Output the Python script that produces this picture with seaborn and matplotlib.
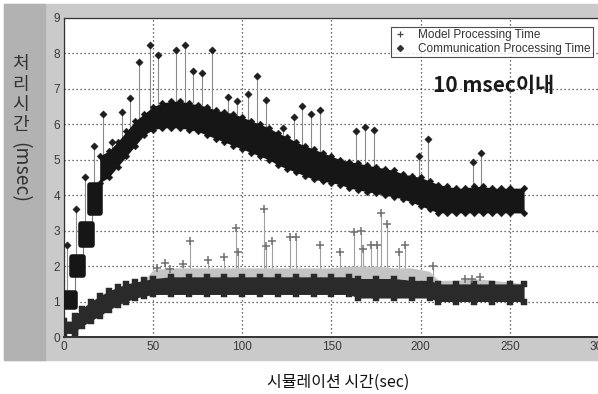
import numpy as np
import pandas as pd
import matplotlib
matplotlib.use("Agg")
import matplotlib.pyplot as plt
import seaborn as sns
from matplotlib.patches import Rectangle
from matplotlib.lines import Line2D

# ---------------- data ----------------
# Communication processing time: early step clusters (msec)
comm_step_x0 = [0, 4.5, 9.5, 14.5]
comm_step_x1 = [6, 10.5, 15.5, 20]
comm_step_lo = [0.85, 1.75, 2.6, 3.5]
comm_step_hi = [1.25, 2.25, 3.2, 4.3]

# Communication processing time: main band envelope (msec)
comm_x = [20, 25, 30, 35, 40, 45, 50, 55, 60, 65, 70, 75,
          80, 85, 90, 95, 100, 105, 110, 115, 120, 125, 130, 135, 140, 145, 150, 155,
          160, 165, 170, 175, 180, 185, 190, 195, 200, 205, 210, 215, 220, 225, 230,
          235, 240, 245, 250, 258]
comm_lo = [4.35, 4.5, 4.8, 5.1, 5.4, 5.7,
           5.85, 5.9, 5.9, 5.9, 5.85, 5.8, 5.7, 5.6, 5.5, 5.4, 5.3, 5.2, 5.1, 5.0, 4.85,
           4.75, 4.65, 4.55, 4.45, 4.4, 4.35, 4.3, 4.2, 4.15, 4.1, 4.05, 4.0, 3.95, 3.9,
           3.8, 3.7, 3.6, 3.5, 3.5, 3.5, 3.5, 3.5, 3.5, 3.5, 3.5, 3.5, 3.5]
comm_hi = [5.1, 5.25, 5.5, 5.8, 6.1, 6.3,
           6.5, 6.6, 6.65, 6.65, 6.6, 6.55, 6.5, 6.4, 6.35, 6.3, 6.2, 6.1, 6.0, 5.9, 5.75,
           5.65, 5.5, 5.4, 5.3, 5.2, 5.1, 5.0, 4.95, 4.9, 4.85, 4.8, 4.75, 4.7, 4.6, 4.55,
           4.5, 4.4, 4.3, 4.25, 4.2, 4.2, 4.25, 4.25, 4.2, 4.2, 4.2, 4.2]
comm_spike_x = [1.7, 6.7, 12, 17, 22, 27, 32.5, 37, 42, 48, 52.5, 63, 68, 72.5, 77.5, 83,
                92, 97, 103, 108, 113, 123, 128.7, 133.5, 138.6, 143.3, 164, 169, 173.7,
                199, 204, 229.6, 234]
comm_spike_base = [1.2, 2.2, 3.1, 4.2, 5.0, 5.2, 5.5, 5.8, 6.0, 6.3, 6.5, 6.6, 6.6,
                   6.6, 6.5, 6.4, 6.3, 6.2, 6.1, 6.0, 5.9, 5.7, 5.5, 5.4, 5.3, 5.2,
                   4.9, 4.9, 4.8, 4.5, 4.4, 4.2, 4.2]
comm_spike_y = [2.6, 3.6, 4.5, 5.4, 6.3, 5.5, 6.35, 6.75, 7.75, 8.25, 7.95, 8.1, 8.25,
                7.5, 7.45, 8.1, 6.77, 6.65, 6.85, 7.35, 6.7, 5.9, 6.2, 6.52, 6.3, 6.4,
                5.82, 5.93, 5.83, 5.1, 5.6, 4.93, 5.2]

# Model processing time: band envelope (msec)
model_x = [0, 6, 6, 10, 15, 20, 25, 30, 35, 40, 45, 50, 60, 70, 80, 90, 100, 110, 120,
           130, 140, 150, 160, 165, 175, 185, 195, 205, 210, 220, 230, 240, 250, 258]
model_lo = [0.1, 0.1, 0.15, 0.3, 0.45, 0.6, 0.75, 0.9, 1.0, 1.1, 1.15, 1.2, 1.2, 1.2,
            1.2, 1.2, 1.2, 1.2, 1.2, 1.2, 1.2, 1.2, 1.2, 1.1, 1.1, 1.1, 1.1, 1.1, 1.0,
            1.0, 1.0, 1.0, 1.0, 1.0]
model_hi = [0.45, 0.45, 0.6, 0.8, 1.0, 1.15, 1.3, 1.4, 1.5, 1.55, 1.6, 1.65, 1.7, 1.7,
            1.7, 1.7, 1.7, 1.7, 1.7, 1.7, 1.7, 1.7, 1.7, 1.65, 1.65, 1.65, 1.6, 1.6, 1.5,
            1.5, 1.5, 1.5, 1.5, 1.5]
model_fringe = [0.45, 0.45, 0.6, 0.8, 1.0, 1.15, 1.3, 1.4, 1.5, 1.55, 1.6, 1.9, 1.95,
                1.95, 1.95, 1.95, 1.95, 1.95, 1.95, 1.95, 1.95, 1.95, 2.0, 2.0, 2.0, 1.95,
                1.95, 1.85, 1.6, 1.6, 1.65, 1.6, 1.55, 1.5]
model_spike_x = [52, 56.7, 59.6, 66.7, 70.8, 80.7, 90, 96.6, 97.6, 112, 113, 116.9, 126.5,
                 130.3, 143.8, 155, 162.5, 166.3, 167.8, 172.3, 175.7, 177.5, 181, 187.8,
                 191.2, 207, 225, 229, 233]
model_spike_y = [1.95, 2.1, 1.93, 2.07, 2.7, 2.18, 2.27, 3.08, 2.39, 3.6, 2.58, 2.7, 2.83,
                 2.83, 2.6, 2.39, 2.95, 2.98, 2.49, 2.6, 2.6, 3.5, 3.2, 2.39, 2.6, 2.0,
                 1.64, 1.64, 1.7]

x_ticks = [0, 50, 100, 150, 200, 250, 300]
y_ticks = [0, 1, 2, 3, 4, 5, 6, 7, 8, 9]
legend_labels = ["Model Processing Time", "Communication Processing Time"]
note_text = "10 msec이내"
x_label = "시뮬레이션 시간(sec)"
y_label_kr = "처리시간"
y_label_unit = "(msec)"

# ---------------- figure ----------------
sns.set_theme(style="white")
plt.rcParams["font.family"] = ["Noto Sans CJK KR", "DejaVu Sans"]

W, H = 598, 394
fig = plt.figure(figsize=(W / 100, H / 100), dpi=100)
fig.patch.set_facecolor("white")

# MATLAB-like grey figure panel
fig.patches.append(Rectangle((4 / W, 1 - 360 / H), (W - 4) / W, 356 / H,
                             transform=fig.transFigure, color="#cacaca", zorder=-10))
fig.patches.append(Rectangle((4 / W, 1 - 360 / H), 41 / W, 356 / H,
                             transform=fig.transFigure, color="#b2b2b2", zorder=-9))

ax = fig.add_axes([64 / W, 1 - 337 / H, (W - 63) / W, (337 - 18) / H])
ax.set_facecolor("white")

comm = pd.DataFrame({"x": comm_x, "lo": comm_lo, "hi": comm_hi})
steps = pd.DataFrame({"x0": comm_step_x0, "x1": comm_step_x1,
                      "lo": comm_step_lo, "hi": comm_step_hi})
model = pd.DataFrame({"x": model_x, "lo": model_lo, "hi": model_hi, "fr": model_fringe})
cspk = pd.DataFrame({"x": comm_spike_x, "b": comm_spike_base, "y": comm_spike_y})
mspk = pd.DataFrame({"x": model_spike_x, "y": model_spike_y})

BAND_C = "#161616"
MODEL_C = "#2a2a2a"

# stems of the spikes (vertical connecting lines)
mbase = np.interp(mspk["x"], model["x"], model["lo"])
ax.vlines(cspk["x"], cspk["b"], cspk["y"], color="#8a8a8a", lw=0.8, zorder=2)
ax.vlines(mspk["x"], mbase, mspk["y"], color="#a0a0a0", lw=0.8, zorder=2)
# thin connectors between the early step clusters
ax.vlines(steps["x1"][:-1], steps["hi"][:-1], steps["lo"][1:].values, color="#777777",
          lw=0.8, zorder=2)

# model band
ax.fill_between(model["x"], model["hi"], model["fr"], color="#c4c4c4", lw=0, zorder=2)
ax.fill_between(model["x"], model["lo"], model["hi"], color=MODEL_C, lw=0, zorder=3)
for col in ["lo", "hi"]:
    sns.scatterplot(data=model, x="x", y=col, marker="s", s=16, color=MODEL_C,
                    edgecolor=MODEL_C, ax=ax, zorder=3, legend=False)
sns.scatterplot(data=mspk, x="x", y="y", marker="+", s=36, color="#707070",
                linewidth=1.1, ax=ax, zorder=4, legend=False)

# communication early clusters (rounded blobs)
for _, r in steps.iterrows():
    ax.fill_between([r["x0"], r["x1"]], [r["lo"]] * 2, [r["hi"]] * 2,
                    facecolor=BAND_C, edgecolor=BAND_C, lw=4, joinstyle="round",
                    zorder=5)

# communication band
ax.fill_between(comm["x"], comm["lo"], comm["hi"], color=BAND_C, lw=0, zorder=5)
for col in ["lo", "hi"]:
    sns.scatterplot(data=comm, x="x", y=col, marker="D", s=12, color=BAND_C,
                    edgecolor=BAND_C, ax=ax, zorder=5, legend=False)
sns.scatterplot(data=cspk, x="x", y="y", marker="D", s=14, color="#1e1e1e",
                edgecolor="#1e1e1e", ax=ax, zorder=6, legend=False)

ax.set_xlim(0, 300)
ax.set_ylim(0, 9)
ax.set_xticks(x_ticks)
ax.set_yticks(y_ticks)
ax.set_xlabel("")
ax.set_ylabel("")
ax.grid(True, linestyle=(0, (1, 2.2)), color="#3a3a3a", lw=0.9)
ax.set_axisbelow(True)
for lab in ax.get_xticklabels() + ax.get_yticklabels():
    lab.set_fontfamily("Liberation Sans")
    lab.set_fontsize(8.5)
    lab.set_color("#3a3a3a")
ax.tick_params(length=0, pad=3)
for s in ax.spines.values():
    s.set_color("#333333")
    s.set_linewidth(0.9)
ax.spines["bottom"].set_linewidth(1.4)

# legend
handles = [Line2D([], [], ls="none", marker="+", ms=5, mew=0.9, color="#444444"),
           Line2D([], [], ls="none", marker="D", ms=3, color="#333333")]
leg = ax.legend(handles, legend_labels, loc="upper right",
                bbox_to_anchor=(593 / W, 1 - 27 / H), bbox_transform=fig.transFigure,
                prop={"family": "Liberation Sans", "size": 8.5}, frameon=True,
                fancybox=False, borderpad=0.2, labelspacing=0.15, handlelength=1.2,
                handletextpad=0.9, borderaxespad=0)
leg.get_frame().set_edgecolor("#222222")
leg.get_frame().set_linewidth(0.8)
for t in leg.get_texts():
    t.set_color("#333333")

# annotation
fig.text(494 / W, 1 - 86 / H, note_text, ha="center", va="center", fontsize=15,
         fontweight="bold", color="#1a1a1a")

# axis labels
fig.text(338 / W, 1 - 382 / H, x_label, ha="center", va="center", fontsize=11.5,
         color="#111111")
for i, ch in enumerate(y_label_kr):
    fig.text(20 / W, 1 - (64.5 + 20.2 * i) / H, ch, ha="center", va="center",
             fontsize=13, color="#333333")
fig.text(20 / W, 1 - 172 / H, y_label_unit, ha="center", va="center", fontsize=14,
         rotation=-90, color="#333333")

fig.savefig("out.png", dpi=100)
